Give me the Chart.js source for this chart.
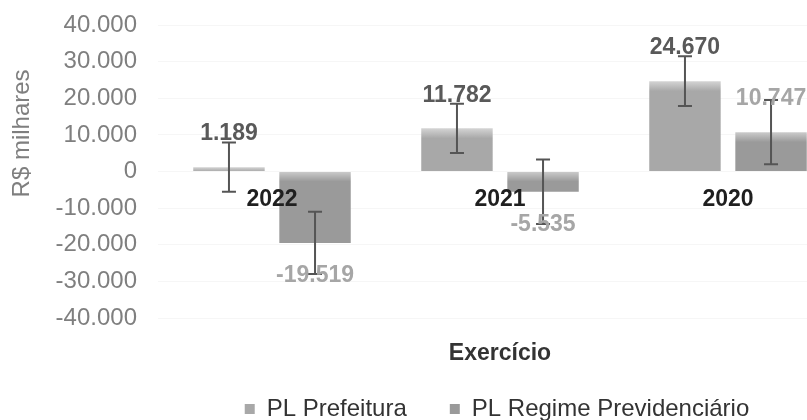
<!DOCTYPE html>
<html>
<head>
<meta charset="utf-8">
<script src="https://cdn.jsdelivr.net/npm/chart.js@4"></script>
<style>
  html, body { margin: 0; padding: 0; background: #fff; overflow: hidden; }
  canvas { display: block; }
</style>
</head>
<body>
<canvas id="chart" width="994" height="431"></canvas>
<script>
const anos = ["2022", "2021", "2020"];
const plPrefeitura = [1189, 11782, 24670];
const plRegime = [-19519, -5535, 10747];
const erroPrefeitura = [6700, 6700, 6800];
const erroRegime = [8500, 8800, 8800];

const fmt = v => (v < 0 ? "-" : "") + Math.abs(v).toString().replace(/\B(?=(\d{3})+(?!\d))/g, ".");

// barra com topo mais claro
function barFill(base, light) {
  return ctx => {
    const chart = ctx.chart;
    if (!chart.chartArea || ctx.type !== "data") return base;
    const y = chart.scales.y;
    const a = y.getPixelForValue(ctx.raw), z = y.getPixelForValue(0);
    const top = Math.min(a, z), bot = Math.max(a, z);
    const g = chart.ctx.createLinearGradient(0, top, 0, bot);
    const s = Math.min(1, 10 / Math.max(bot - top, 1));
    g.addColorStop(0, light);
    g.addColorStop(s, base);
    g.addColorStop(1, base);
    return g;
  };
}

const overlay = {
  id: "overlay",
  afterDatasetsDraw(chart) {
    const { ctx, scales: { x, y }, chartArea } = chart;
    ctx.save();

    // barras de erro
    chart.data.datasets.forEach((ds, di) => {
      chart.getDatasetMeta(di).data.forEach((bar, i) => {
        const v = ds.data[i], e = ds.errors[i];
        const hi = y.getPixelForValue(v + e), lo = y.getPixelForValue(v - e);
        ctx.strokeStyle = "#555";
        ctx.lineWidth = 2;
        ctx.beginPath();
        ctx.moveTo(bar.x, hi); ctx.lineTo(bar.x, lo);
        ctx.moveTo(bar.x - 7, hi); ctx.lineTo(bar.x + 7, hi);
        ctx.moveTo(bar.x - 7, lo); ctx.lineTo(bar.x + 7, lo);
        ctx.stroke();
      });
    });

    // rótulos de valor
    ctx.textAlign = "center";
    ctx.textBaseline = "middle";
    ctx.font = "bold 23px 'Liberation Sans', Arial, sans-serif";
    chart.data.datasets.forEach((ds, di) => {
      ctx.fillStyle = ds.labelColor;
      chart.getDatasetMeta(di).data.forEach((bar, i) => {
        const v = ds.data[i];
        ctx.fillText(fmt(v), bar.x, v >= 0 ? bar.y - 33 : bar.y + 33);
      });
    });

    // anos junto ao eixo zero
    ctx.fillStyle = "#1f1f1f";
    const y0 = y.getPixelForValue(0);
    anos.forEach((a, i) => ctx.fillText(a, x.getPixelForValue(i), y0 + 28));

    // título do eixo y
    ctx.font = "24px 'Liberation Sans', Arial, sans-serif";
    ctx.fillStyle = "#7f7f7f";
    ctx.translate(22, chartArea.top + (chartArea.bottom - chartArea.top) * 0.37);
    ctx.rotate(-Math.PI / 2);
    ctx.fillText("R$ milhares", 0, 0);

    ctx.restore();
  }
};

new Chart(document.getElementById("chart"), {
  type: "bar",
  data: {
    labels: anos,
    datasets: [
      {
        label: "PL Prefeitura",
        data: plPrefeitura,
        errors: erroPrefeitura,
        labelColor: "#595959",
        backgroundColor: barFill("#a8a8a8", "#d4d4d4"),
        categoryPercentage: 0.755,
        barPercentage: 0.83
      },
      {
        label: "PL Regime Previdenciário",
        data: plRegime,
        errors: erroRegime,
        labelColor: "#a6a6a6",
        backgroundColor: barFill("#9a9a9a", "#cccccc"),
        categoryPercentage: 0.755,
        barPercentage: 0.83
      }
    ]
  },
  options: {
    responsive: false,
    animation: false,
    layout: { padding: { top: 25, left: 0, right: 0, bottom: 0 } },
    scales: {
      x: {
        grid: { display: false, drawTicks: false },
        border: { display: false },
        ticks: { display: false },
        title: {
          display: true,
          text: "Exercício",
          color: "#333",
          font: { family: "'Liberation Sans', Arial, sans-serif", size: 23, weight: "bold" },
          padding: { top: 21.6, bottom: -13.2 }
        }
      },
      y: {
        min: -40000,
        max: 40000,
        afterFit: s => { s.width = 158; s.paddingTop = 0; s.paddingBottom = 0; },
        grid: { color: "rgba(0,0,0,0.035)", drawTicks: false },
        border: { display: false },
        ticks: {
          stepSize: 10000,
          padding: 21,
          color: "#7f7f7f",
          font: { family: "'Liberation Sans', Arial, sans-serif", size: 24 },
          callback: v => fmt(v)
        }
      },
      yR: {
        position: "right",
        afterFit: s => { s.width = 152; s.paddingTop = 0; s.paddingBottom = 0; },
        grid: { display: false, drawTicks: false },
        border: { display: false },
        ticks: { display: false }
      }
    },
    plugins: {
      tooltip: { enabled: false },
      legend: {
        position: "bottom",
        labels: {
          boxWidth: 10,
          boxHeight: 10,
          padding: 43,
          color: "#333",
          font: { family: "'Liberation Sans', Arial, sans-serif", size: 24 }
        }
      }
    }
  },
  plugins: [overlay]
});
</script>
</body>
</html>
